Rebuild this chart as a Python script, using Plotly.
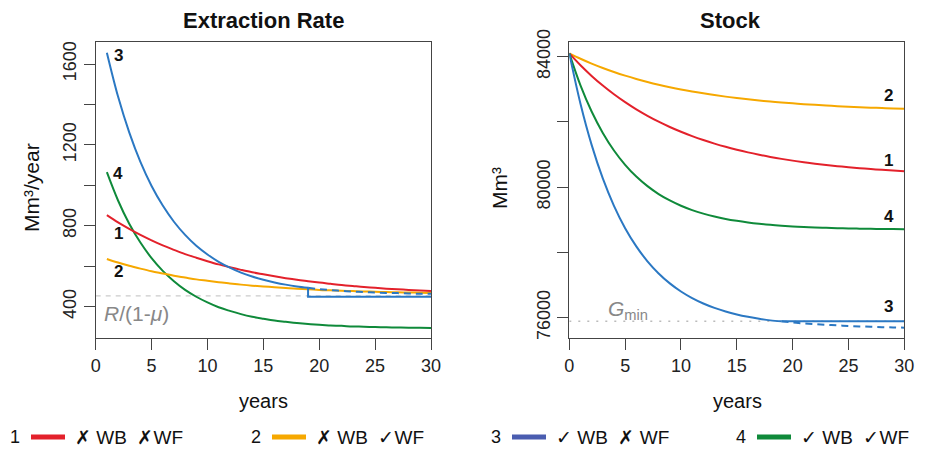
import plotly.graph_objects as go

# ---------------- data ----------------
years_E = list(range(1, 31))
years_G = list(range(0, 31))

# Extraction rate (Mm3/year)
E1 = [853, 817, 785, 755, 728, 703, 681, 660, 642, 625, 609, 595, 582, 570, 560,
      550, 541, 533, 526, 519, 513, 507, 502, 497, 493, 489, 486, 483, 480, 477]
E2 = [636, 618, 602, 588, 575, 564, 553, 544, 535, 528, 521, 515, 509, 504, 500,
      496, 492, 489, 486, 483, 481, 479, 477, 475, 474, 472, 471, 470, 469, 468]
E3_years = list(range(1, 20))
E3 = [1656, 1439, 1262, 1116, 997, 900, 820, 755, 701, 658, 622, 593, 568, 549,
      533, 520, 509, 500, 493]
E3_con_years = [19] + list(range(19, 31))
E3_con = [493] + [449] * 12
E3_free_years = list(range(19, 31))
E3_free = [493, 487, 482, 478, 475, 472, 470, 468, 467, 465, 464, 464]
E4 = [1065, 925, 810, 717, 640, 577, 526, 483, 449, 421, 397, 379, 363, 350, 340,
      331, 325, 319, 314, 310, 307, 305, 302, 301, 299, 298, 297, 296, 296, 295]
R_over = 453

# Stock (Mm3)
G1 = [84100, 83738, 83411, 83115, 82847, 82605, 82385, 82187, 82007, 81845, 81698,
      81565, 81445, 81336, 81237, 81148, 81067, 80994, 80928, 80868, 80814, 80766,
      80721, 80681, 80645, 80612, 80582, 80555, 80531, 80509, 80489]
G2 = [84100, 83937, 83789, 83654, 83531, 83419, 83318, 83226, 83142, 83066, 82996,
      82933, 82876, 82823, 82776, 82733, 82694, 82658, 82626, 82596, 82569, 82545,
      82523, 82503, 82484, 82467, 82452, 82438, 82426, 82414, 82404]
G3_years = list(range(0, 20))
G3 = [84100, 82557, 81297, 80269, 79430, 78744, 78185, 77729, 77356, 77052, 76803,
      76600, 76435, 76300, 76190, 76100, 76027, 75966, 75918, 75888]
G_min = 75890
G3_con_years = list(range(19, 31))
G3_con = [G_min] * 12
G3_free_years = list(range(19, 31))
G3_free = [75888, 75852, 75825, 75802, 75782, 75764, 75748, 75734, 75722, 75711,
           75702, 75694]
G4 = [84100, 83121, 82320, 81664, 81126, 80687, 80326, 80032, 79790, 79593, 79431,
      79298, 79190, 79101, 79028, 78969, 78920, 78880, 78847, 78821, 78799, 78781,
      78766, 78755, 78744, 78736, 78730, 78724, 78720, 78716, 78714]

x_ticks = [0, 5, 10, 15, 20, 25, 30]
E_ticks = [400, 800, 1200, 1600]
G_ticks = [76000, 80000, 84000]

legend_labels = ["✗ WB  ✗WF", "✗ WB  ✓WF", "✓ WB  ✗ WF", "✓ WB  ✓WF"]

# ---------------- style ----------------
RED = "#e3212b"
ORANGE = "#f6a800"
BLUE = "#2b78c3"
GREEN = "#0f8a3a"
LEG_BLUE = "#4a5db0"
FONT = "Liberation Sans, Arial, Helvetica, sans-serif"
LW = 2

fig = go.Figure()

def line(x, y, color, xa, ya, dash="solid", width=LW, shape="spline"):
    fig.add_trace(go.Scatter(x=x, y=y, mode="lines", xaxis=xa, yaxis=ya,
                             line=dict(color=color, width=width, dash=dash,
                                       shape=shape, smoothing=1.0),
                             showlegend=False, hoverinfo="skip"))

# Extraction panel
line([0, 30], [R_over, R_over], "#cccccc", "x", "y", dash="5px,5px", width=1.3,
     shape="linear")
line(years_E, E4, GREEN, "x", "y")
line(years_E, E1, RED, "x", "y")
line(years_E, E2, ORANGE, "x", "y")
line(E3_years, E3, BLUE, "x", "y")
line(E3_con_years, E3_con, BLUE, "x", "y", shape="linear")
line(E3_free_years, E3_free, BLUE, "x", "y", dash="7px,5px")

# Stock panel
line([0, 30], [G_min, G_min], "#bbbbbb", "x2", "y2", dash="2px,7px", width=1.5,
     shape="linear")
line(years_G, G2, ORANGE, "x2", "y2")
line(years_G, G1, RED, "x2", "y2")
line(years_G, G4, GREEN, "x2", "y2")
line(G3_years, G3, BLUE, "x2", "y2")
line(G3_con_years, G3_con, BLUE, "x2", "y2", shape="linear")
line(G3_free_years, G3_free, BLUE, "x2", "y2", dash="7px,5px")

axis_common = dict(showgrid=False, zeroline=False, showline=True, linecolor="#444444",
                   linewidth=1.2, mirror=True, ticks="outside", ticklen=11,
                   tickcolor="#444444", tickwidth=1.2, automargin=False,
                   tickfont=dict(family=FONT, size=18, color="#222222"))

W, H = 930, 450
fig.update_layout(
    template="none",
    width=W, height=H, margin=dict(l=0, r=0, t=0, b=0, autoexpand=False),
    paper_bgcolor="white", plot_bgcolor="white",
    xaxis=dict(domain=[95.7 / W, 431 / W], range=[0, 30], tickvals=x_ticks,
               anchor="y", **axis_common),
    yaxis=dict(domain=[1 - 338 / H, 1 - 42 / H], range=[245, 1709],
               tickvals=E_ticks, tickangle=-90, tickformat="d",
               minor=dict(tick0=400, dtick=200, ticks="outside", ticklen=11,
                          tickcolor="#444444", tickwidth=1.2),
               anchor="x", **axis_common),
    xaxis2=dict(domain=[569.3 / W, 904.3 / W], range=[0, 30], tickvals=x_ticks,
                anchor="y2", **axis_common),
    yaxis2=dict(domain=[1 - 338 / H, 1 - 42 / H], range=[75378, 84450],
                tickvals=G_ticks, tickangle=-90, tickformat="d",
                minor=dict(tick0=76000, dtick=2000, ticks="outside", ticklen=11,
                           tickcolor="#444444", tickwidth=1.2),
                anchor="x2", **axis_common),
    showlegend=False,
)

ann = []
def text(x, y, s, size=17, bold=False, color="#111111", xref="paper", yref="paper",
         xanchor="center", yanchor="middle", angle=0):
    ann.append(dict(x=x, y=y, text=("<b>%s</b>" % s) if bold else s, showarrow=False,
                    xref=xref, yref=yref, xanchor=xanchor, yanchor=yanchor,
                    textangle=angle,
                    font=dict(family=FONT, size=size, color=color)))

# titles
text(263 / W, 1 - 21 / H, "Extraction Rate", size=22, bold=True)
text(730 / W, 1 - 21 / H, "Stock", size=22, bold=True)
# axis titles
text(263 / W, 1 - 401 / H, "years", size=20)
text(737 / W, 1 - 401 / H, "years", size=20)
text(31 / W, 1 - 188 / H, "Mm³/year", size=21, angle=-90)
text(499 / W, 1 - 188 / H, "Mm³", size=21, angle=-90)

# curve labels - extraction
text(2.0, 1640, "3", bold=True, xref="x", yref="y")
text(2.0, 1060, "4", bold=True, xref="x", yref="y")
text(2.0, 760, "1", bold=True, xref="x", yref="y")
text(2.0, 572, "2", bold=True, xref="x", yref="y")
text(0.6, 368, "<i>R</i>/(1-<i>μ</i>)", size=21, color="#888888", xref="x", yref="y",
     xanchor="left")
# curve labels - stock
text(28.6, 82800, "2", bold=True, xref="x2", yref="y2")
text(28.6, 80830, "1", bold=True, xref="x2", yref="y2")
text(28.6, 79090, "4", bold=True, xref="x2", yref="y2")
text(28.6, 76330, "3", bold=True, xref="x2", yref="y2")
text(3.3, 76230, "<i>G</i><sub>min</sub>", size=21, color="#888888", xref="x2",
     yref="y2", xanchor="left")

# bottom legend
leg_x = [15, 256, 496, 741]
leg_colors = [RED, ORANGE, LEG_BLUE, GREEN]
shapes = []
for i, (lx, c) in enumerate(zip(leg_x, leg_colors)):
    text(lx / W, 1 - 437 / H, str(i + 1), size=18)
    shapes.append(dict(type="line", xref="paper", yref="paper",
                       x0=(lx + 16) / W, x1=(lx + 50) / W,
                       y0=1 - 437 / H, y1=1 - 437 / H,
                       line=dict(color=c, width=5)))
    text((lx + 58) / W, 1 - 437 / H, legend_labels[i], size=19, xanchor="left")

fig.update_layout(annotations=ann, shapes=shapes)
fig.write_html("out.html", config={"displayModeBar": False},
               post_script="document.body.style.margin='0px';"
                           "document.body.style.overflow='hidden';")
